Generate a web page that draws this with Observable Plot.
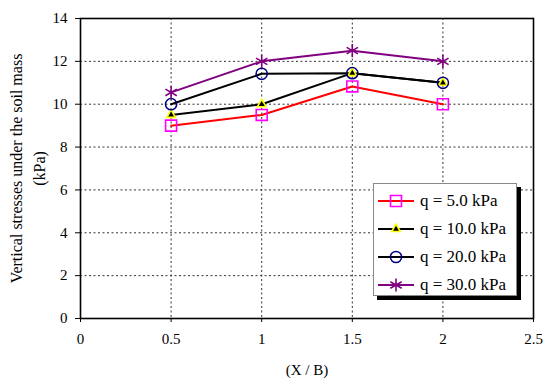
<!DOCTYPE html>
<html>
<head>
<meta charset="utf-8">
<script src="https://cdn.jsdelivr.net/npm/d3@7"></script>
<script src="https://cdn.jsdelivr.net/npm/@observablehq/plot@0.6"></script>
<style>
  html, body { margin: 0; padding: 0; background: #fff; }
  #wrap { position: relative; width: 550px; height: 384px; font-family: "Liberation Serif", "Times New Roman", serif; }
  #legend { position: absolute; left: 373px; top: 183px; width: 144px; height: 113px; background: #fff;
            border: 1px solid #888; box-shadow: 4px 4px 0 #000; box-sizing: border-box; }
  .row { position: absolute; left: 4px; height: 28px; display: flex; align-items: center; font-size: 17px; color: #000; white-space: nowrap; }
  .row svg { margin-right: 6px; }
</style>
</head>
<body>
<div id="wrap"></div>
<script>
const xValues = [0.5, 1, 1.5, 2];
const q5  = [9.0, 9.5, 10.83, 10.0];
const q10 = [9.5, 10.0, 11.45, 11.0];
const q20 = [10.0, 11.42, 11.45, 11.0];
const q30 = [10.55, 12.0, 12.5, 12.0];
const seriesNames = ["q = 5.0 kPa", "q = 10.0 kPa", "q = 20.0 kPa", "q = 30.0 kPa"];
const xTicks = [0, 0.5, 1, 1.5, 2, 2.5];
const yTicks = [0, 2, 4, 6, 8, 10, 12, 14];
const xLabel = "(X / B)";
const yLabel = "Vertical stresses under the soil mass\n(kPa)";

const styles = [
  {line: "#ff0000", symbol: "square",   r: 6.2, fill: "none",    stroke: "#ff00ff", sw: 1.6},
  {line: "#000000", symbol: "triangle", r: 3.2, fill: "#000000", stroke: "#ffff00", sw: 1.6},
  {line: "#000000", symbol: "circle",   r: 5.6, fill: "none",    stroke: "#000080", sw: 1.5},
  {line: "#800080", symbol: "asterisk", r: 6.2, fill: "none",    stroke: "#800080", sw: 1.6}
];
const allSeries = [q5, q10, q20, q30];
const tables = allSeries.map(vals => xValues.map((x, i) => ({x, y: vals[i]})));

const marks = [
  Plot.gridX([0.5, 1, 1.5, 2], {stroke: "#333", strokeOpacity: 1, strokeDasharray: "2,2.5", strokeWidth: 1}),
  Plot.gridY([2, 4, 6, 8, 10, 12], {stroke: "#333", strokeOpacity: 1, strokeDasharray: "2,2.5", strokeWidth: 1}),
  Plot.frame({stroke: "#000", strokeWidth: 1.6}),
  Plot.axisX({ticks: xTicks, tickSize: 4, tickPadding: 11, fontSize: 15, label: null, tickFormat: d => String(d)}),
  Plot.axisY({ticks: yTicks, tickSize: 5, tickPadding: 8, fontSize: 15, label: null, tickFormat: d => String(d)}),
  Plot.text([xLabel], {frameAnchor: "bottom", dy: 52, fontSize: 15, lineAnchor: "middle"}),
  Plot.text([yLabel], {frameAnchor: "left", dx: -54, rotate: -90, fontSize: 16, textAnchor: "middle", lineAnchor: "middle", lineHeight: 1.4})
];
tables.forEach((t, i) => {
  const s = styles[i];
  marks.push(Plot.line(t, {x: "x", y: "y", stroke: s.line, strokeWidth: 2}));
});
tables.forEach((t, i) => {
  const s = styles[i];
  marks.push(Plot.dot(t, {x: "x", y: "y", symbol: () => s.symbol, r: s.r, fill: s.fill, stroke: s.stroke, strokeWidth: s.sw}));
});

const chart = Plot.plot({
  width: 550, height: 384,
  marginLeft: 80, marginRight: 17, marginTop: 18, marginBottom: 66,
  style: {fontFamily: "'Liberation Serif', 'Times New Roman', serif", fontSize: "15px", color: "#000", background: "#fff"},
  x: {domain: [0, 2.5], axis: null},
  y: {domain: [0, 14], axis: null},
  symbol: {type: "identity"},
  marks
});
const wrap = document.getElementById("wrap");
wrap.appendChild(chart);

// legend
const legend = document.createElement("div");
legend.id = "legend";
const symMap = {square: d3.symbolSquare, triangle: d3.symbolTriangle, circle: d3.symbolCircle, asterisk: d3.symbolAsterisk};
seriesNames.forEach((name, i) => {
  const s = styles[i];
  const row = document.createElement("div");
  row.className = "row";
  row.style.top = (3 + i * 28) + "px";
  const path = d3.symbol(symMap[s.symbol], Math.PI * s.r * s.r)();
  row.innerHTML = `<svg width="36" height="20"><line x1="0" x2="36" y1="10" y2="10" stroke="${s.line}" stroke-width="2"/>` +
    `<path transform="translate(18,10)" d="${path}" fill="${s.fill}" stroke="${s.stroke}" stroke-width="${s.sw}"/></svg>` +
    `<span>${name}</span>`;
  legend.appendChild(row);
});
wrap.appendChild(legend);
</script>
</body>
</html>
